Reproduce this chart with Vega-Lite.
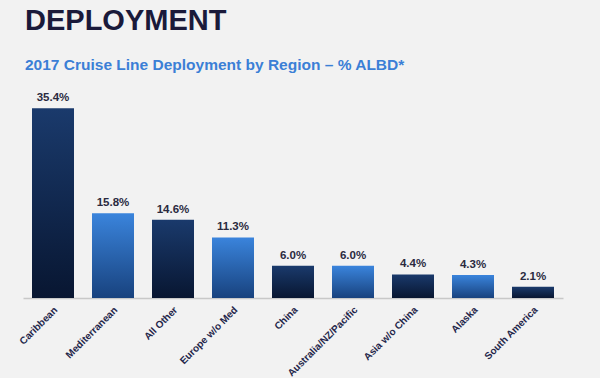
{
  "$schema": "https://vega.github.io/schema/vega-lite/v6.json",
  "autosize": {"type": "none"},
  "width": 540,
  "height": 193,
  "padding": {"left": 23, "top": 105, "right": 37, "bottom": 80},
  "background": "#f2f2f2",
  "view": {"stroke": null},
  "title": {
    "text": "DEPLOYMENT",
    "subtitle": "2017 Cruise Line Deployment by Region – % ALBD*",
    "anchor": "start",
    "frame": "group",
    "dx": 2,
    "offset": 19,
    "font": "Liberation Sans",
    "fontSize": 29,
    "fontWeight": "bold",
    "color": "#1a1a3a",
    "subtitleFont": "Liberation Sans",
    "subtitleFontSize": 15.5,
    "subtitleFontWeight": "bold",
    "subtitleColor": "#3b7fd6",
    "subtitlePadding": 22
  },
  "data": {
    "values": [
      {"region": "Caribbean", "share": 0.354, "tone": "dark"},
      {"region": "Mediterranean", "share": 0.158, "tone": "light"},
      {"region": "All Other", "share": 0.146, "tone": "dark"},
      {"region": "Europe w/o Med", "share": 0.113, "tone": "light"},
      {"region": "China", "share": 0.060, "tone": "dark"},
      {"region": "Australia/NZ/Pacific", "share": 0.060, "tone": "light"},
      {"region": "Asia w/o China", "share": 0.044, "tone": "dark"},
      {"region": "Alaska", "share": 0.043, "tone": "light"},
      {"region": "South America", "share": 0.021, "tone": "dark"}
    ]
  },
  "encoding": {
    "x": {
      "field": "region",
      "type": "nominal",
      "sort": ["Caribbean", "Mediterranean", "All Other", "Europe w/o Med", "China", "Australia/NZ/Pacific", "Asia w/o China", "Alaska", "South America"],
      "scale": {"paddingInner": 0.3, "paddingOuter": 0.15},
      "axis": {
        "title": null,
        "labelAngle": -45,
        "labelAlign": "right",
        "labelBaseline": "middle",
        "labelPadding": 10,
        "labelOffset": 3,
        "labelFont": "Liberation Sans",
        "labelFontSize": 10,
        "labelFontWeight": "bold",
        "labelColor": "#24264a",
        "ticks": false,
        "domainColor": "#c8c8c8",
        "domainWidth": 1.5,
        "grid": false
      }
    },
    "y": {
      "field": "share",
      "type": "quantitative",
      "scale": {"domain": [0, 0.36], "nice": false},
      "axis": null
    }
  },
  "layer": [
    {
      "transform": [{"filter": "datum.tone === 'dark'"}],
      "mark": {
        "type": "bar",
        "color": {
          "gradient": "linear", "x1": 0, "y1": 0, "x2": 0, "y2": 1,
          "stops": [{"offset": 0, "color": "#1a3a6c"}, {"offset": 1, "color": "#081631"}]
        }
      }
    },
    {
      "transform": [{"filter": "datum.tone === 'light'"}],
      "mark": {
        "type": "bar",
        "color": {
          "gradient": "linear", "x1": 0, "y1": 0, "x2": 0, "y2": 1,
          "stops": [{"offset": 0, "color": "#3a84dc"}, {"offset": 1, "color": "#18427e"}]
        }
      }
    },
    {
      "mark": {
        "type": "text",
        "baseline": "bottom",
        "dy": -5,
        "font": "Liberation Sans",
        "fontSize": 11.5,
        "fontWeight": "bold",
        "color": "#2a2a40"
      },
      "encoding": {
        "text": {"field": "share", "type": "quantitative", "format": ".1%"}
      }
    }
  ]
}
